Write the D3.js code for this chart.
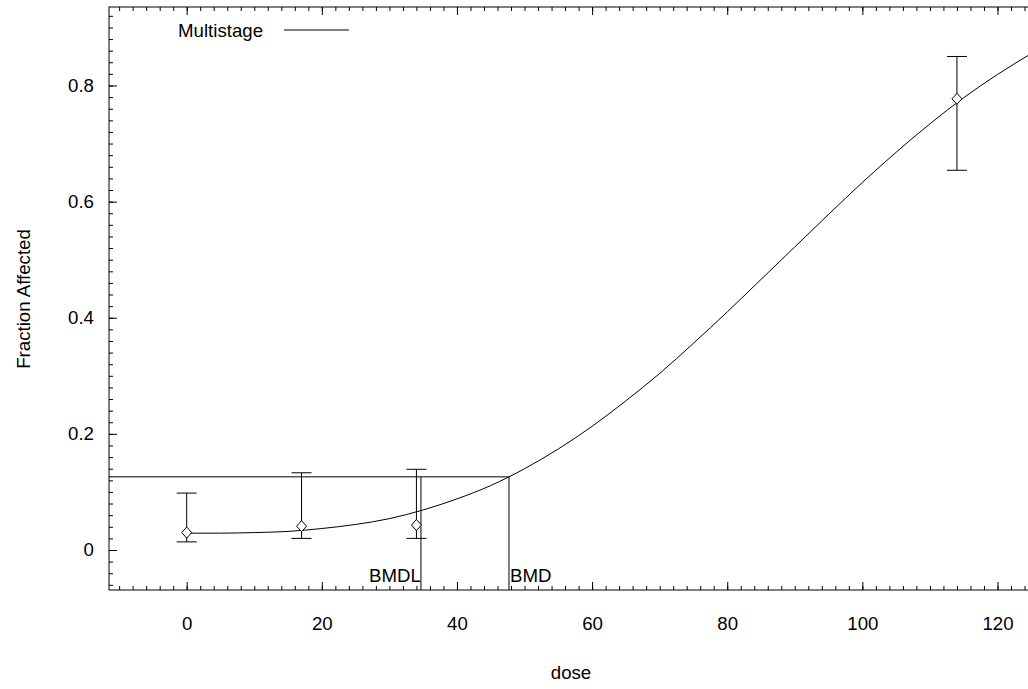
<!DOCTYPE html>
<html>
<head>
<title>Multistage BMD plot</title>
<script src="https://d3js.org/d3.v7.min.js"></script>
<style>
  body { margin: 0; background: #fff; }
  text { font-family: "Liberation Sans", Arial, sans-serif; font-size: 18.67px; fill: #000; }
</style>
</head>
<body>
<div id="chart"></div>
<script>

// observed data: dose, fraction affected and its confidence limits
const doses = [0, 17, 34, 114];
const observed = [0.030, 0.041, 0.043, 0.777];
const lowerCL = [0.014, 0.020, 0.020, 0.654];
const upperCL = [0.098, 0.133, 0.139, 0.850];

// fitted multistage curve, every 5 dose units
const curveDose = [0, 5, 10, 15, 20, 25, 30, 35, 40, 45, 50, 55, 60, 65,
                   70, 75, 80, 85, 90, 95, 100, 105, 110, 115, 120, 125];
const curveFrac = [0.029, 0.029, 0.030, 0.032, 0.037, 0.044, 0.054, 0.069, 0.088,
                   0.111, 0.140, 0.174, 0.213, 0.257, 0.304, 0.356, 0.410, 0.466,
                   0.522, 0.578, 0.633, 0.685, 0.734, 0.779, 0.819, 0.855];

// benchmark values
const bmd = 47.7;
const bmdl = 34.67;
const bmrLevel = 0.126;

const xTicks = [0, 20, 40, 60, 80, 100, 120];
const yTicks = [0, 0.2, 0.4, 0.6, 0.8];

const width = 1028, height = 689;
const plot = {left: 109, right: 1036, top: 7, bottom: 590};

const svg = d3.select("#chart")
  .append("svg")
    .attr("width", width)
    .attr("height", height);

const x = d3.scaleLinear()
  .domain([-11.5, 125.7])
  .range([plot.left, plot.right]);

const y = d3.scaleLinear()
  .domain([-0.0689, 0.9352])
  .range([plot.bottom, plot.top]);

const xMinor = d3.range(-10, 126, 2);
const yMinor = d3.range(-6, 94, 2).map(function(d) { return d / 100; });

// frame
svg.append("rect")
  .attr("x", plot.left)
  .attr("y", plot.top)
  .attr("width", plot.right - plot.left)
  .attr("height", plot.bottom - plot.top)
  .attr("fill", "none")
  .attr("stroke", "#000");

function tidy(g) {
  g.select(".domain").remove();
  g.selectAll("line").attr("stroke", "#000");
  g.selectAll("text").attr("font-size", null).attr("font-family", null);
}

// bottom axis
svg.append("g")
  .attr("transform", "translate(0," + plot.bottom + ")")
  .call(d3.axisBottom(x).tickValues(xMinor).tickSize(-4).tickFormat(""))
  .call(tidy);
svg.append("g")
  .attr("transform", "translate(0," + plot.bottom + ")")
  .call(d3.axisBottom(x).tickValues(xTicks).tickSize(-8).tickPadding(27).tickFormat(d3.format("d")))
  .call(tidy);

// top axis
svg.append("g")
  .attr("transform", "translate(0," + plot.top + ")")
  .call(d3.axisTop(x).tickValues(xMinor).tickSize(-4).tickFormat(""))
  .call(tidy);
svg.append("g")
  .attr("transform", "translate(0," + plot.top + ")")
  .call(d3.axisTop(x).tickValues(xTicks).tickSize(-8).tickFormat(""))
  .call(tidy);

// left axis
svg.append("g")
  .attr("transform", "translate(" + plot.left + ",0)")
  .call(d3.axisLeft(y).tickValues(yMinor).tickSize(-4).tickFormat(""))
  .call(tidy);
svg.append("g")
  .attr("transform", "translate(" + plot.left + ",0)")
  .call(d3.axisLeft(y).tickValues(yTicks).tickSize(-8).tickPadding(15).tickFormat(function(d) { return d === 0 ? "0" : d3.format(".1f")(d); }))
  .call(tidy);

// right axis
svg.append("g")
  .attr("transform", "translate(" + plot.right + ",0)")
  .call(d3.axisRight(y).tickValues(yMinor).tickSize(-4).tickFormat(""))
  .call(tidy);
svg.append("g")
  .attr("transform", "translate(" + plot.right + ",0)")
  .call(d3.axisRight(y).tickValues(yTicks).tickSize(-8).tickFormat(""))
  .call(tidy);

// axis titles
svg.append("text")
  .attr("x", 571)
  .attr("y", 679)
  .attr("text-anchor", "middle")
  .text("dose");

svg.append("text")
  .attr("transform", "translate(30," + 299 + ")rotate(-90)")
  .attr("text-anchor", "middle")
  .text("Fraction Affected");

// clip for the curve
svg.append("clipPath")
  .attr("id", "clip")
  .append("rect")
    .attr("x", plot.left)
    .attr("y", plot.top)
    .attr("width", plot.right - plot.left)
    .attr("height", plot.bottom - plot.top);

// fitted curve
const line = d3.line()
  .x(function(d, i) { return x(curveDose[i]); })
  .y(function(d) { return y(d); })
  .curve(d3.curveMonotoneX);

svg.append("path")
  .datum(curveFrac)
  .attr("clip-path", "url(#clip)")
  .attr("fill", "none")
  .attr("stroke", "#000")
  .attr("stroke-width", 1)
  .attr("d", line);

// BMR / BMD / BMDL lines
svg.append("line")
  .attr("x1", x.range()[0]).attr("x2", x(bmd))
  .attr("y1", y(bmrLevel)).attr("y2", y(bmrLevel))
  .attr("stroke", "#000");
svg.append("line")
  .attr("x1", x(bmd)).attr("x2", x(bmd))
  .attr("y1", y(bmrLevel)).attr("y2", plot.bottom)
  .attr("stroke", "#000");
svg.append("line")
  .attr("x1", x(bmdl)).attr("x2", x(bmdl))
  .attr("y1", y(bmrLevel)).attr("y2", plot.bottom)
  .attr("stroke", "#000");

svg.append("text")
  .attr("x", x(bmdl))
  .attr("y", 582)
  .attr("text-anchor", "end")
  .text("BMDL");
svg.append("text")
  .attr("x", x(bmd) + 1)
  .attr("y", 582)
  .text("BMD");

// error bars
const bars = svg.selectAll(".errbar")
  .data(doses)
  .enter()
  .append("g")
    .attr("class", "errbar");

bars.append("line")
  .attr("x1", function(d) { return x(d); })
  .attr("x2", function(d) { return x(d); })
  .attr("y1", function(d, i) { return y(lowerCL[i]); })
  .attr("y2", function(d, i) { return y(upperCL[i]); })
  .attr("stroke", "#000");
bars.append("line")
  .attr("x1", function(d) { return x(d) - 10; })
  .attr("x2", function(d) { return x(d) + 10; })
  .attr("y1", function(d, i) { return y(lowerCL[i]); })
  .attr("y2", function(d, i) { return y(lowerCL[i]); })
  .attr("stroke", "#000");
bars.append("line")
  .attr("x1", function(d) { return x(d) - 10; })
  .attr("x2", function(d) { return x(d) + 10; })
  .attr("y1", function(d, i) { return y(upperCL[i]); })
  .attr("y2", function(d, i) { return y(upperCL[i]); })
  .attr("stroke", "#000");

// diamonds
svg.selectAll(".pt")
  .data(doses)
  .enter()
  .append("path")
    .attr("class", "pt")
    .attr("transform", function(d, i) { return "translate(" + x(d) + "," + y(observed[i]) + ")"; })
    .attr("d", "M0,-5.5L5,0L0,5.5L-5,0Z")
    .attr("fill", "#fff")
    .attr("stroke", "#000");

// legend
svg.append("text")
  .attr("x", 178)
  .attr("y", 37)
  .text("Multistage");
svg.append("line")
  .attr("x1", 284).attr("x2", 349)
  .attr("y1", 30).attr("y2", 30)
  .attr("stroke", "#000");

</script>
</body>
</html>
